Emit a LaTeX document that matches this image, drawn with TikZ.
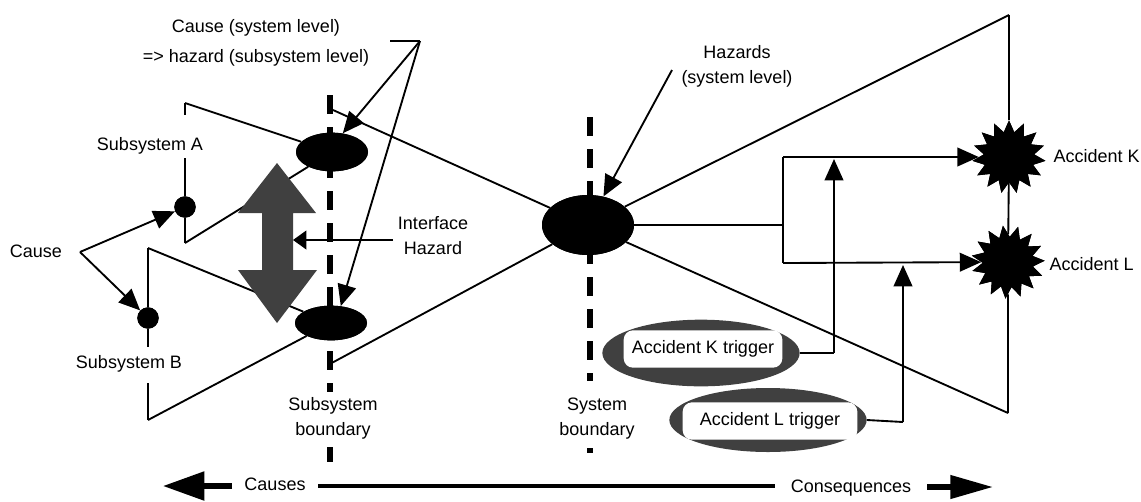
\documentclass[tikz,border=0pt]{standalone}
\usepackage{fontspec}
\setmainfont{Liberation Sans}
\usetikzlibrary{arrows.meta,shapes.geometric}
\begin{document}
\begin{tikzpicture}[x=0.75pt,y=-0.75pt,
  ln/.style={line width=1.4pt},
  arr/.style={ln,-{Triangle[length=16pt,width=14pt]}},
  sarr/.style={ln,-{Triangle[length=10pt,width=14pt]}},
  bnd/.style={line width=3.8pt,dash pattern=on 14pt off 10pt},
  blob/.style={ellipse,fill=black,inner sep=0pt},
  dotn/.style={circle,fill=black,inner sep=0pt,minimum size=16pt},
  boom/.style={star,star points=15,star point ratio=1.45,fill=black,inner sep=0pt,minimum size=55pt},
  trig/.style={ellipse,fill=black!75,inner sep=0pt},
  tbox/.style={fill=white,rounded corners=7pt,inner sep=0pt,minimum height=28pt},
  lbl/.style={inner sep=1pt,align=center},
  dbl/.style={fill=black!75},
  font=\fontsize{13.5pt}{18.75pt}\selectfont]
\useasboundingbox (0,0) rectangle (1141,501);

% coordinates
\coordinate (A1) at (185,103);
\coordinate (A1b) at (185,115);
\coordinate (A3) at (185,158);
\coordinate (A2) at (185,243);
\coordinate (B1) at (148,248);
\coordinate (B1b) at (148,347);
\coordinate (B3) at (148,383);
\coordinate (B2) at (148,420);
\coordinate (V) at (80,252);
\coordinate (S1) at (333,110);
\coordinate (S2) at (328,365);
\coordinate (R1) at (1009,15);
\coordinate (R2) at (1008,413);
\coordinate (J0) at (783,225);
\coordinate (J1) at (783,157);
\coordinate (J2) at (783,263);
\coordinate (kT) at (834,159);
\coordinate (kB) at (834,353);
\coordinate (lT) at (903,265);
\coordinate (lB) at (903,422);
\coordinate (C) at (420,41);
\coordinate (C0) at (390,41);
\coordinate (H0) at (672,70);
\coordinate (IF0) at (393,240);
\coordinate (IF1) at (293,240);
\coordinate (sbTop) at (330,95);
\coordinate (sbMid) at (330,392);
\coordinate (sbB1) at (330,447);
\coordinate (sbBot) at (330,462);
\coordinate (syTop) at (590,117);
\coordinate (syMid) at (590,381);
\coordinate (syD1) at (590,448);
\coordinate (syD2) at (590,453);
\coordinate (bl1) at (318,486);
\coordinate (bl2) at (775,486);
\coordinate (bla) at (232,486);
\coordinate (blTip) at (163,486);
\coordinate (bra) at (927,487);
\coordinate (brTip) at (993,487);

% labels
\node[lbl] (lcause) at (256,43) {Cause (system level)\\[3.75pt]=> hazard (subsystem level)};
\node[lbl,anchor=base] (lsubA) at (150,150) {Subsystem A};
\node[lbl,anchor=base] (lsubB) at (129,368) {Subsystem B};
\node[lbl,anchor=base] (lcs) at (36,257) {Cause};
\node[lbl] (lif) at (433,236) {Interface\\Hazard};
\node[lbl] (lhz) at (737,66) {Hazards\\(system level)};
\node[lbl] (lsb) at (333,418) {Subsystem\\boundary};
\node[lbl] (lsy) at (597,419) {System\\boundary};
\node[lbl,anchor=base west] (lK) at (1052,162) {Accident K};
\node[lbl,anchor=base west] (lL) at (1048,270) {Accident L};
\node[lbl,anchor=base] (lcauses) at (275,490) {Causes};
\node[lbl,anchor=base] (lcons) at (851,492) {Consequences};

% boundaries
\draw[bnd] (sbTop) -- (sbMid);
\draw[line width=3.8pt] (sbB1) -- (sbBot);
\draw[bnd] (syTop) -- (syMid);
\draw[line width=3.8pt] (syD1) -- (syD2);

% blobs (named; drawn again on top later)
\path
  node[blob,minimum width=54pt,minimum height=29pt] (elA) at (332,152) {}
  node[blob,minimum width=54pt,minimum height=26pt] (elB) at (331,323) {}
  node[blob,minimum width=69pt,minimum height=45pt] (elC) at (588,225) {}
  node[dotn] (cA) at (185,207) {}
  node[dotn] (cB) at (148,318) {}
  node[boom] (starK) at (1009,157) {}
  node[boom,rotate=8] (starL) at (1008,262) {};

% subsystem A
\draw[ln] (A1) -- (A1b);
\draw[ln] (A3) -- (cA) -- (A2);
\draw[ln] (A1) -- (elA);
\draw[ln] (A2) -- (elA);
% subsystem B
\draw[ln] (B1) -- (cB) -- (B1b);
\draw[ln] (B3) -- (B2);
\draw[ln] (B1) -- (elB);
\draw[ln] (B2) -- (elB);
% system level
\draw[ln] (S1) -- (elC);
\draw[ln] (S2) -- (elC);
\draw[ln] (elC) -- (R1);
\draw[ln] (R1) -- (starK);
\draw[ln] (starK) -- (starL);
\draw[ln] (starL) -- (R2);
\draw[ln] (R2) -- (elC);
% consequence branches
\draw[ln] (elC) -- (J0);
\draw[ln] (J1) -- (J2);
\draw[arr] (J1) -- (starK);
\draw[arr] (J2) -- (starL);

% double arrow (interface)
\fill[dbl] (277,163) -- (316,213) -- (293,213) -- (293,270) -- (317,270) -- (277,323)
  -- (238,270) -- (262,270) -- (262,213) -- (238,213) -- cycle;

% blobs on top
\node[blob,minimum width=54pt,minimum height=29pt] at (elA) {};
\node[blob,minimum width=54pt,minimum height=26pt] at (elB) {};
\node[blob,minimum width=69pt,minimum height=45pt] at (elC) {};
\node[dotn] at (cA) {};
\node[dotn] at (cB) {};
\node[boom] at (starK) {};
\node[boom,rotate=8] at (starL) {};

% triggers
\node[trig,minimum width=148pt,minimum height=50pt] (trK) at (701,353) {};
\node[tbox,minimum width=119pt] (tK) at (703,349) {Accident K trigger};
\node[trig,minimum width=148pt,minimum height=48pt] (trL) at (768,420) {};
\node[tbox,minimum width=131pt] (tL) at (770,421) {Accident L trigger};
\draw[ln] (trK.east) -- (kB);
\draw[arr] (kB) -- (kT);
\draw[ln] (trL.east) -- (lB);
\draw[arr] (lB) -- (lT);

% cause arrows
\draw[arr] (V) -- (cA);
\draw[arr] (V) -- (cB);

% label pointers
\draw[ln] (C0) -- (C);
\draw[arr] (C) -- (elA.60);
\draw[arr] (C) -- (elB.60);
\draw[arr] (H0) -- (elC);
\draw[sarr] (IF0) -- (IF1);

% causes / consequences axis
\draw[line width=3pt] (bl1) -- (bl2);
\draw[line width=4pt,-{Triangle[length=31pt,width=21pt]}] (bla) -- (blTip);
\draw[line width=4pt,-{Triangle[length=32pt,width=17pt]}] (bra) -- (brTip);
\end{tikzpicture}
\end{document}
